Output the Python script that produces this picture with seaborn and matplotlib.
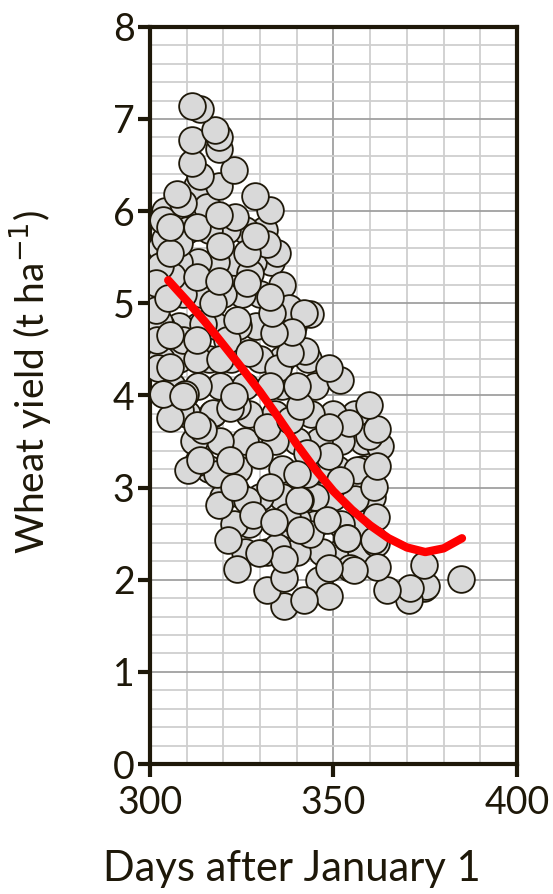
import numpy as np
import pandas as pd
import matplotlib.pyplot as plt
import seaborn as sns
from matplotlib.ticker import MultipleLocator

# Sowing/harvest day vs yield
days = [311.6, 313.7, 317.8, 318.7, 311.6, 318.7, 311.6, 322.8, 313.7, 318.9,
        307.3, 328.7, 332.6, 318.7, 305.5, 328.7, 312.8, 323.2, 309.0, 315.5,
        312.8, 305.5, 308.0, 319.1, 326.4, 331.9, 334.6, 318.7, 305.0, 332.8,
        312.8, 323.7, 333.2, 305.5, 312.8, 326.9, 333.7, 338.7, 341.9, 319.1,
        305.5, 312.8, 338.3, 309.1, 303.6, 322.8, 332.8, 340.1, 301.8, 301.8,
        309.1, 317.3, 326.4, 314.6, 321.0, 327.3, 343.7, 342.3, 348.7, 351.7,
        359.6, 361.9, 348.7, 354.2, 359.6, 341.0, 305.5, 312.8, 321.9, 313.7,
        310.5, 321.9, 329.6, 322.8, 318.7, 332.8, 340.1, 333.7, 328.2, 321.4,
        329.6, 323.7, 336.4, 336.4, 331.9, 341.9, 336.4, 340.5, 341.0, 314.6,
        308.2, 318.2, 326.4, 334.6, 337.3, 361.9, 362.8, 361.0, 323.7, 340.1,
        348.2, 338.3, 342.8, 351.9, 356.5, 331.9, 323.7, 317.3, 313.2, 309.6,
        361.0, 353.7, 343.7, 348.7, 348.7, 355.5, 361.9, 364.6, 370.8, 370.5,
        374.7, 375.1, 384.7, 374.7, 354.6, 361.5, 353.7, 361.5, 356.0, 341.0,
        342.8, 348.7, 303.5, 302.7, 304.0, 306.0, 360.5, 357.5, 346.0,
        302.0, 302.0, 302.3, 303.0, 304.0, 302.5, 338.0, 336.0, 335.0,
        # interior of the cloud
        305, 310, 316, 321, 326, 331,
        303, 308, 313, 318, 323, 328, 333,
        304, 309, 314, 320, 325, 330, 335,
        303, 308, 313, 318, 324, 329, 334, 339,
        303, 308, 316, 322, 330, 336, 343,
        306, 313, 319, 326, 336, 345,
        310, 317, 327, 334, 344, 350, 356,
        312, 319, 326, 334, 340, 346, 352, 358,
        316, 324, 336, 346, 351, 358,
        320, 330, 336, 345, 350, 360,
        323, 327, 338, 345, 352, 358,
        326, 332, 340, 347, 352, 356, 360]
yields = [7.14, 7.11, 6.88, 6.80, 6.77, 6.67, 6.52, 6.45, 6.38, 6.27,
          6.19, 6.16, 6.01, 5.96, 5.83, 5.73, 5.83, 5.94, 6.09, 6.05,
          6.27, 5.55, 5.65, 5.62, 5.55, 5.64, 5.55, 5.24, 5.06, 5.07,
          5.29, 4.82, 4.89, 4.66, 4.60, 4.46, 4.68, 4.69, 4.89, 4.39,
          4.31, 4.39, 4.46, 3.99, 4.01, 3.99, 4.10, 4.10, 4.93, 5.22,
          4.60, 5.00, 5.22, 4.78, 4.60, 5.33, 4.88, 4.48, 4.30, 4.17,
          3.90, 3.64, 3.66, 3.70, 3.56, 3.88, 3.75, 3.68, 3.86, 3.30,
          3.19, 3.30, 3.35, 3.01, 2.81, 3.01, 3.15, 2.63, 2.70, 2.43,
          2.29, 2.12, 2.23, 2.02, 1.89, 1.78, 1.71, 2.87, 2.54, 3.63,
          3.84, 3.15, 2.87, 2.36, 2.68, 3.23, 3.45, 3.01, 2.94, 2.65,
          2.65, 3.73, 3.37, 3.08, 3.19, 3.66, 3.88, 3.81, 3.28, 4.02,
          2.43, 2.45, 2.50, 1.82, 2.13, 2.10, 2.14, 1.89, 1.91, 1.78,
          2.16, 1.93, 2.01, 1.91, 2.13, 2.40, 2.45, 2.68, 2.88, 2.87,
          3.15, 3.34, 5.90, 5.40, 5.70, 5.30, 2.90, 2.30, 2.00,
          5.00, 4.60, 4.30, 5.60, 6.00, 4.80, 4.95, 5.20, 4.30,
          5.80, 5.80, 5.80, 5.80, 5.80, 5.80,
          5.45, 5.45, 5.45, 5.45, 5.45, 5.45, 5.45,
          5.10, 5.10, 5.10, 5.10, 5.10, 5.10, 5.10,
          4.75, 4.75, 4.75, 4.75, 4.75, 4.75, 4.75, 4.75,
          4.40, 4.40, 4.40, 4.40, 4.40, 4.40, 4.40,
          4.10, 4.10, 4.10, 4.10, 4.10, 4.10,
          3.80, 3.80, 3.80, 3.80, 3.80, 3.80, 3.80,
          3.50, 3.50, 3.50, 3.50, 3.50, 3.50, 3.50, 3.50,
          3.20, 3.20, 3.20, 3.20, 3.20, 3.20,
          2.90, 2.90, 2.90, 2.90, 2.90, 2.90,
          2.60, 2.60, 2.60, 2.60, 2.60, 2.60,
          2.30, 2.30, 2.30, 2.30, 2.30, 2.30, 2.30]

# fitted trend line
trend_days = [305, 310, 315, 320, 325, 330, 335, 340, 345, 350,
              355, 360, 365, 370, 375, 380, 385]
trend_yield = [5.25, 5.03, 4.80, 4.55, 4.30, 4.04, 3.76, 3.47, 3.20, 2.96,
               2.76, 2.59, 2.45, 2.35, 2.30, 2.34, 2.45]

df = pd.DataFrame({'day': days, 'yield': yields})
trend = pd.DataFrame({'day': trend_days, 'yield': trend_yield})

ink = '#1e1809'
sns.set_style('white')
plt.rcParams['font.family'] = ['Lato', 'DejaVu Sans']

fig = plt.figure(figsize=(5.53, 8.94), dpi=100)
ax = fig.add_axes([0.271, 0.1454, 0.664, 0.8246])

# interior fill points drawn first, outline points on top
sns.scatterplot(data=df.iloc[::-1], x='day', y='yield', s=370, color='#d9d9d9',
                edgecolor=ink, linewidth=1.3, ax=ax, zorder=3, legend=False)
sns.lineplot(data=trend, x='day', y='yield', color='#ff0000', linewidth=6,
             ax=ax, zorder=4, solid_capstyle='round')

ax.set_xlim(300, 400)
ax.set_ylim(0, 8)
ax.xaxis.set_major_locator(MultipleLocator(50))
ax.xaxis.set_minor_locator(MultipleLocator(10))
ax.yaxis.set_major_locator(MultipleLocator(1))
ax.yaxis.set_minor_locator(MultipleLocator(0.2))

ax.grid(which='minor', color='#cfcfcf', linewidth=1.3, zorder=0)
ax.grid(which='major', color='#a0a0a0', linewidth=1.3, zorder=0)
ax.set_axisbelow(True)

for sp in ax.spines.values():
    sp.set_color(ink)
    sp.set_linewidth(3)

ax.tick_params(which='major', direction='out', length=9, width=3, color=ink,
               labelsize=27, labelcolor=ink, bottom=True, left=True)
ax.tick_params(axis='y', pad=2)
ax.tick_params(axis='x', pad=6)
ax.tick_params(which='minor', length=0)

ax.set_xlabel('Days after January 1', fontsize=30, color=ink)
ax.set_ylabel('Wheat yield (t ha$^{-1}$)', fontsize=28, color=ink)
ax.xaxis.set_label_coords(0.387, -0.117)
ax.yaxis.set_label_coords(-0.265, 0.518)

fig.savefig('out.png', dpi=100)
